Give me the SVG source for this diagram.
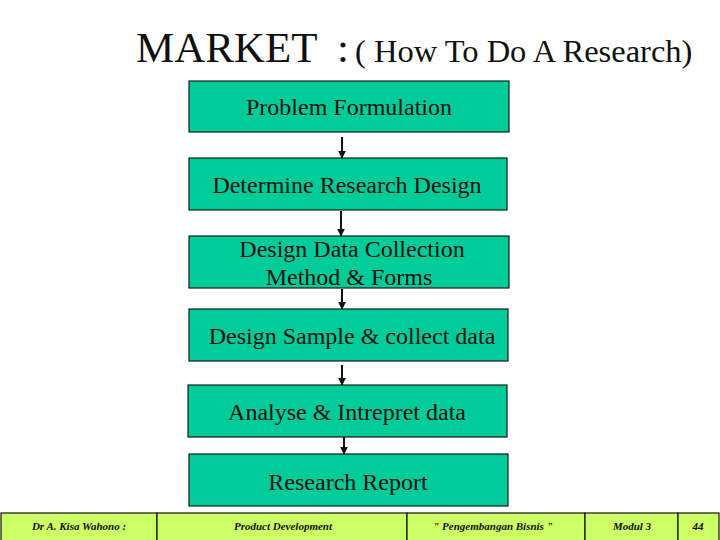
<svg xmlns="http://www.w3.org/2000/svg" width="720" height="540" viewBox="0 0 720 540">
<defs>
<style>
.box{fill:#00cc99;stroke:#1a1a1a;stroke-width:1.2}
.bt{font-family:"Liberation Serif",serif;font-size:24px;fill:#111;text-anchor:middle}
.tt{font-family:"Liberation Serif",serif;fill:#111}
.ft{font-family:"Liberation Serif",serif;font-style:italic;font-weight:bold;font-size:11px;fill:#111;text-anchor:middle}
.cell{fill:#ccff66;stroke:#111;stroke-width:1.2}
.con{stroke:#111;stroke-width:2;fill:none;marker-end:url(#ah)}
</style>
<marker id="ah" viewBox="0 0 10 10" refX="9" refY="5" markerWidth="4" markerHeight="4" orient="auto">
<path d="M0,0 L10,5 L0,10 z" fill="#111"/>
</marker>
</defs>
<rect width="720" height="540" fill="#fff"/>
<g id="title">
<text class="tt" x="136" y="62" font-size="43">MARKET</text>
<text class="tt" x="337" y="62" font-size="43">:</text>
<text class="tt" x="355" y="62" font-size="32.5">( How To Do A Research)</text>
</g>
<g id="n1"><rect class="box" x="189" y="81" width="320" height="51"/><text class="bt" x="349" y="115">Problem Formulation</text></g>
<g id="n2"><rect class="box" x="189" y="158" width="318" height="52"/><text class="bt" x="347" y="193">Determine Research Design</text></g>
<g id="n3"><rect class="box" x="189" y="236" width="320" height="52"/><text class="bt" x="352" y="257">Design Data Collection</text><text class="bt" x="349" y="285">Method &amp; Forms</text></g>
<g id="n4"><rect class="box" x="189" y="309" width="319" height="52"/><text class="bt" x="352" y="344">Design Sample &amp; collect data</text></g>
<g id="n5"><rect class="box" x="188" y="385" width="319" height="52"/><text class="bt" x="347" y="420">Analyse &amp; Intrepret data</text></g>
<g id="n6"><rect class="box" x="189" y="454" width="319" height="52"/><text class="bt" x="348" y="490">Research Report</text></g>
<g id="connectors">
<line class="con" x1="342" y1="137" x2="342" y2="158"/>
<line class="con" x1="341" y1="211" x2="341" y2="236"/>
<line class="con" x1="342" y1="289" x2="342" y2="309"/>
<line class="con" x1="342" y1="365" x2="342" y2="385"/>
<line class="con" x1="344" y1="437" x2="344" y2="454"/>
</g>
<g id="footer">
<rect class="cell" x="1" y="513" width="156" height="30"/>
<rect class="cell" x="157" y="513" width="250" height="30"/>
<rect class="cell" x="407" y="513" width="178" height="30"/>
<rect class="cell" x="585" y="513" width="93" height="30"/>
<rect class="cell" x="678" y="513" width="41" height="30"/>
<text class="ft" x="79" y="530">Dr A. Kisa Wahono :</text>
<text class="ft" x="283" y="530" font-size="14">Product Development</text>
<text class="ft" x="493" y="530">" Pengembangan Bisnis "</text>
<text class="ft" x="632" y="530">Modul 3</text>
<text class="ft" x="698" y="530">44</text>
</g>
</svg>
